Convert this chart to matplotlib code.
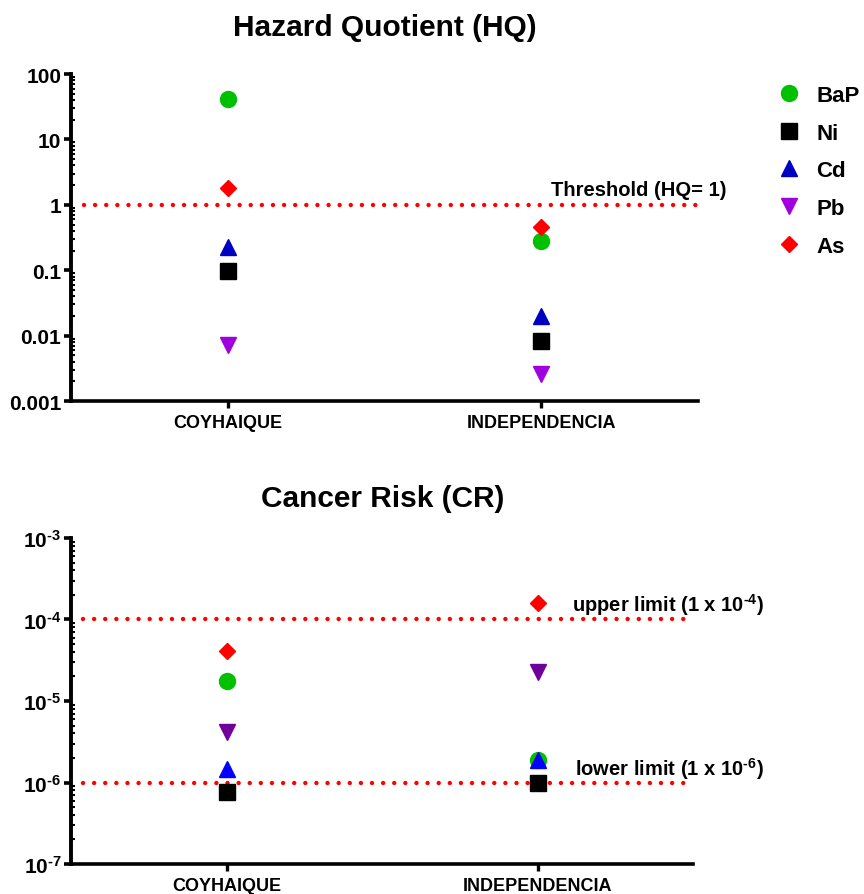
import math
import matplotlib
matplotlib.use("Agg")
import matplotlib.pyplot as plt
from matplotlib.ticker import LogLocator, FixedLocator, FuncFormatter, NullFormatter
from matplotlib.lines import Line2D

plt.rcParams["font.family"] = ["Liberation Sans", "DejaVu Sans"]
plt.rcParams["font.weight"] = "bold"
plt.rcParams["mathtext.fontset"] = "custom"
plt.rcParams["mathtext.rm"] = "Liberation Sans:bold"
plt.rcParams["mathtext.bf"] = "Liberation Sans:bold"
plt.rcParams["mathtext.default"] = "bf"

# ===== data =====
sites = ["COYHAIQUE", "INDEPENDENCIA"]
species = ["BaP", "Ni", "Cd", "Pb", "As"]

hq_bap = [41.5, 0.28]
hq_ni = [0.097, 0.0083]
hq_cd = [0.226, 0.020]
hq_pb = [0.0072, 0.0026]
hq_as = [1.81, 0.46]

cr_bap = [1.76e-5, 1.89e-6]
cr_ni = [7.6e-7, 9.9e-7]
cr_cd = [1.47e-6, 1.89e-6]
cr_pb = [4.2e-6, 2.27e-5]
cr_as = [4.1e-5, 1.59e-4]

hq_threshold = 1.0
cr_upper = 1e-4
cr_lower = 1e-6

# ===== styles =====
markers = {"BaP": "o", "Ni": "s", "Cd": "^", "Pb": "v", "As": "D"}
sizes = {"BaP": 11.5, "Ni": 11, "Cd": 12, "Pb": 12, "As": 8.5}
hq_colors = {"BaP": "#00c000", "Ni": "#000000", "Cd": "#0000c0", "Pb": "#a000e0", "As": "#ff0000"}
cr_colors = {"BaP": "#00c000", "Ni": "#000000", "Cd": "#0000ff", "Pb": "#70009a", "As": "#ff0000"}
dot_style = dict(color="#ff0000", linewidth=3.2, linestyle=(0, (0.001, 2.5)),
                 dash_capstyle="round", zorder=1)

fig = plt.figure(figsize=(8.64, 8.95), dpi=100)
ax1 = fig.add_axes([0.0822, 0.5508, 0.7257, 0.3654])
ax2 = fig.add_axes([0.0822, 0.0335, 0.7200, 0.3643])

xpos = list(range(len(sites)))


def style_axis(ax):
    ax.set_yscale("log")
    ax.set_xlim(-0.5, 1.5)
    for s in ["top", "right"]:
        ax.spines[s].set_visible(False)
    ax.spines["left"].set_linewidth(2.8)
    ax.spines["bottom"].set_linewidth(2.6)
    ax.xaxis.set_major_locator(FixedLocator(xpos))
    ax.set_xticklabels(sites, fontsize=13, fontweight="bold")
    ax.tick_params(axis="x", length=5, width=2.4, pad=4)
    ax.tick_params(axis="y", which="major", length=5, width=2.6, pad=2, labelsize=15)
    ax.tick_params(axis="y", which="minor", direction="in", length=3.2, width=1.5)
    ax.yaxis.set_minor_locator(LogLocator(base=10, subs=range(2, 10), numticks=20))
    ax.yaxis.set_minor_formatter(NullFormatter())


# ===== Hazard Quotient =====
style_axis(ax1)
ax1.set_ylim(1e-3, 100)
ax1.yaxis.set_major_locator(FixedLocator([1e-3, 1e-2, 1e-1, 1, 10, 100]))
ax1.yaxis.set_major_formatter(FuncFormatter(lambda v, p: f"{v:g}"))
ax1.axhline(hq_threshold, xmin=0.02, xmax=1.0, **dot_style)
hq_data = {"BaP": hq_bap, "Ni": hq_ni, "Cd": hq_cd, "Pb": hq_pb, "As": hq_as}
for sp in species:
    ax1.plot(xpos, hq_data[sp], linestyle="none", marker=markers[sp],
             markersize=sizes[sp], color=hq_colors[sp], zorder=3, clip_on=False)
ax1.text(1.03, hq_threshold * 1.22, "Threshold (HQ= 1)", fontsize=14.5,
         fontweight="bold", ha="left", va="bottom")

# ===== Cancer Risk =====
style_axis(ax2)
ax2.set_ylim(1e-7, 1e-3)
ax2.yaxis.set_major_locator(FixedLocator([1e-7, 1e-6, 1e-5, 1e-4, 1e-3]))
ax2.yaxis.set_major_formatter(
    FuncFormatter(lambda v, p: r"$10^{\text{-}%d}$" % abs(round(math.log10(v)))))
ax2.axhline(cr_upper, xmin=0.02, xmax=1.0, **dot_style)
ax2.axhline(cr_lower, xmin=0.02, xmax=1.0, **dot_style)
cr_data = {"BaP": cr_bap, "Ni": cr_ni, "Cd": cr_cd, "Pb": cr_pb, "As": cr_as}
for sp in ["BaP", "Ni", "Pb", "As", "Cd"]:
    ax2.plot(xpos, cr_data[sp], linestyle="none", marker=markers[sp],
             markersize=sizes[sp], color=cr_colors[sp], zorder=3, clip_on=False)
ax2.text(1.11, cr_upper * 1.55, r"upper limit (1 x 10$^{\text{-}4}$)", fontsize=14.5,
         fontweight="bold", ha="left", va="center")
ax2.text(1.12, cr_lower * 1.5, r"lower limit (1 x 10$^{\text{-}6}$)", fontsize=14.5,
         fontweight="bold", ha="left", va="center")

# ===== titles =====
fig.text(0.4456, 0.9687, "Hazard Quotient (HQ)", fontsize=21.5, fontweight="bold",
         ha="center", va="center")
fig.text(0.4430, 0.4430, "Cancer Risk (CR)", fontsize=21.5, fontweight="bold",
         ha="center", va="center")

# ===== legend =====
handles = [Line2D([], [], linestyle="none", marker=markers[sp], markersize=sizes[sp],
                  color=hq_colors[sp]) for sp in species]
fig.legend(handles, species, loc="upper left", bbox_to_anchor=(0.900, 0.904),
           frameon=False, fontsize=16, handlelength=1.0, handletextpad=0.75,
           labelspacing=0.75, borderaxespad=0, borderpad=0)

fig.savefig("out.png", dpi=100)
